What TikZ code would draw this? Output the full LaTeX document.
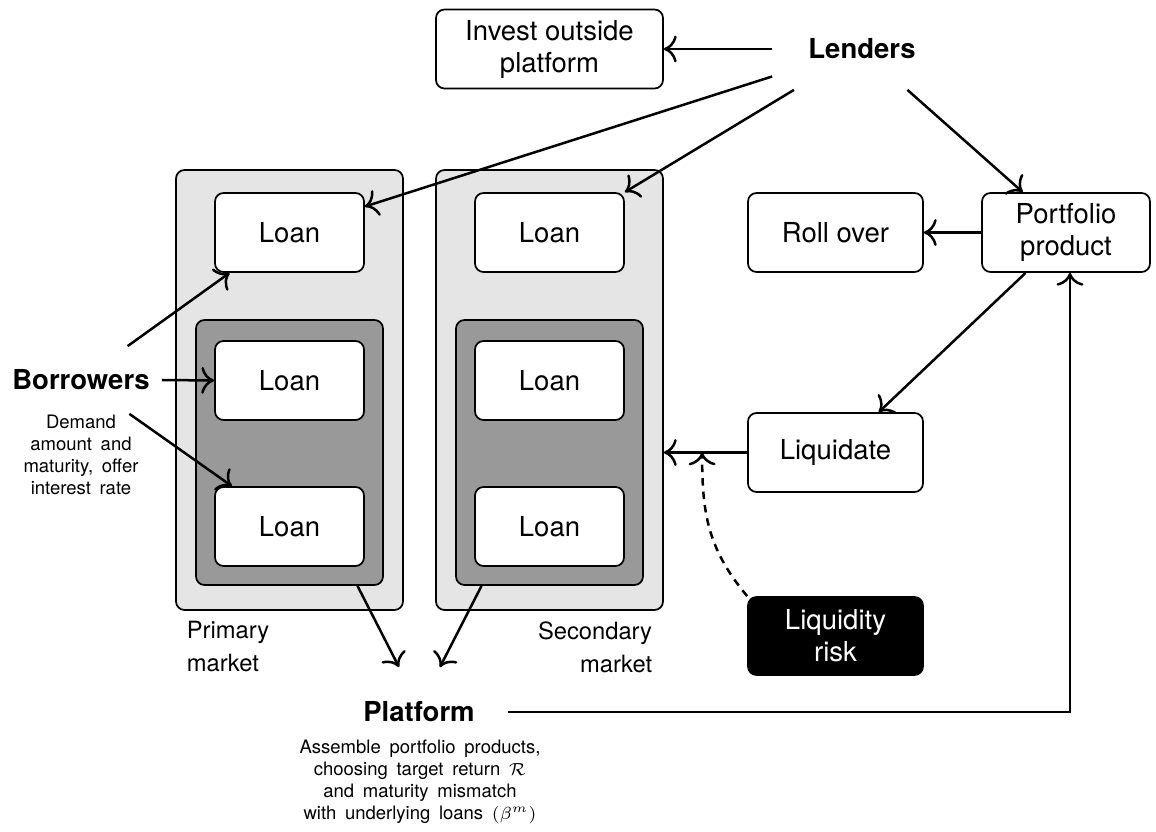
\documentclass[tikz,border=0pt]{standalone}
\usepackage{fontspec}
\setmainfont{TeX Gyre Heros}
\usetikzlibrary{arrows.meta}
\definecolor{mktlight}{gray}{0.9}
\definecolor{mktdark}{gray}{0.6}

\begin{document}
\begin{tikzpicture}[x=0.4pt, y=-0.4pt, >={To[scale=1.35]}, line width=0.7pt,
    box/.style={rectangle, draw, rounded corners=3.4pt, fill=white, align=center, inner sep=0pt, font=\fontsize{11}{12.8}\selectfont},
    loan/.style={box, minimum width=59.6pt, minimum height=31.6pt},
    actbox/.style={box, minimum width=70pt, minimum height=31.6pt},
    agent/.style={inner sep=0pt, font=\bfseries\fontsize{11}{13}\selectfont},
    note/.style={align=center, inner sep=0pt, font=\fontsize{7.4}{8.8}\selectfont, execute at begin node=\setlength{\spaceskip}{0.47em}},
    mkttext/.style={inner sep=0pt, font=\fontsize{9.5}{13.2}\selectfont},
    flow/.style={->, line width=1pt}]
        \useasboundingbox (0,0) rectangle (1156,832);

        % Markets
        \node[box, fill=mktlight, minimum width=90.8pt, minimum height=176pt] (pmkt) at (289.5,390) {};
        \node[box, fill=mktdark, minimum width=74.8pt, minimum height=106pt] (pin) at (289.5,452.5) {};
        \node[box, fill=mktlight, minimum width=90.8pt, minimum height=176pt] (smkt) at (549.5,390) {};
        \node[box, fill=mktdark, minimum width=74.8pt, minimum height=106pt] (sin) at (549.5,452.5) {};
        \foreach \col/\x in {p/289.5, s/549.5} {
            \foreach \i/\y in {1/232.5, 2/380.5, 3/526.5}
                \node[loan] (\col loan\i) at (\x,\y) {Loan};
        }
        \node[mkttext, anchor=west, align=left] (pmlabel) at (186,647) {Primary\\market};
        \node[mkttext, anchor=east, align=right] (smlabel) at (653,647) {Secondary\\market};

        % Lenders side
        \node[agent, minimum width=71.2pt, minimum height=32pt] (lend) at (862,49) {Lenders};
        \node[box, minimum width=90.8pt, minimum height=31.6pt] (invest) at (549.5,49) {Invest outside\\platform};
        \node[box, minimum width=67.2pt, minimum height=31.6pt] (port) at (1066,232.5) {Portfolio\\product};
        \node[actbox] (roll) at (835.5,232.5) {Roll over};
        \node[actbox] (liq) at (835.5,452.5) {Liquidate};
        \node[actbox, fill=black, text=white, minimum height=31.2pt] (risk) at (835.5,636) {Liquidity\\risk};

        % Borrowers and platform
        \node[agent, minimum width=64pt, minimum height=26.4pt] (borr) at (81,380) {Borrowers};
        \node[note] (borrnote) at (81,455) {Demand\\amount and\\maturity, offer\\interest rate};
        \node[agent, minimum width=70.4pt, minimum height=35.2pt] (plat) at (419,712) {Platform};
        \node[note] (platnote) at (420,782) {Assemble portfolio products,\\choosing target return $\mathcal{R}$\\and maturity mismatch\\with underlying loans $(\beta^m)$};

        % Flows of the lenders
        \draw[flow] (lend.west) -- (invest.east);
        \draw[flow] (lend.197) -- (ploan1.19);
        \draw[flow] (lend.211) -- (sloan1.north east);
        \draw[flow] (lend.318) -- (port.137);
        \draw[flow] (port.west) -- (roll.east);
        \draw[flow] (port.225) -- (liq.43);
        \draw[flow] (liq.west) -- (liq.west -| smkt.east);
        \draw[flow, dash pattern=on 3pt off 2.4pt] (risk.north west) .. controls +(-40,-48) and +(0,60) .. ([xshift=-18pt]liq.west);

        % Flows of the borrowers
        \draw[flow] (borr.36) -- (ploan1.214);
        \draw[flow] (borr.east) -- (ploan2.west);
        \draw[flow] (borr.325) -- (ploan3.145);

        % Platform
        \draw[flow] (pin.297) -- (plat.114);
        \draw[flow] (sin.243) -- (plat.65);
        \draw[flow] (plat.east) -| ([xshift=1.6pt]port.south);
    \end{tikzpicture}
\end{document}
